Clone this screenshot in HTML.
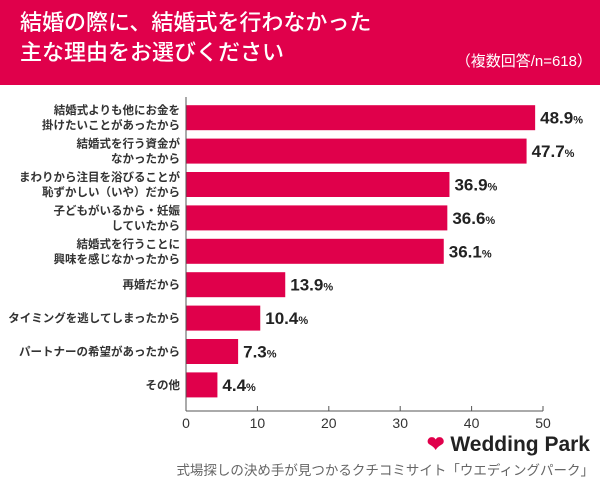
<!DOCTYPE html>
<html><head><meta charset="utf-8"><style>
body{margin:0;width:600px;height:486px;background:#fff;overflow:hidden;font-family:"Liberation Sans","Noto Sans CJK JP",sans-serif}
#hdr{position:absolute;left:0;top:0;width:600px;height:85px;background:#e0004b}
.t{position:absolute;color:#fff;white-space:nowrap}
</style></head><body>
<div id="hdr">
<div class="t" style="left:20px;top:8px;font-size:22px;line-height:30px;font-weight:500">結婚の際に、結婚式を行わなかった<br>主な理由をお選びください</div>
<div class="t" style="right:8px;top:50px;font-size:15px">（複数回答/n=618）</div>
</div>
<svg id="c" width="600" height="486" style="position:absolute;left:0;top:0"></svg>
<div style="position:absolute;right:10px;top:432px;font-size:21px;font-weight:bold;color:#222;white-space:nowrap"><span style="color:#e0004b">❤</span> Wedding Park</div>
<div style="position:absolute;right:6px;top:459px;font-size:13.5px;color:#666;white-space:nowrap">式場探しの決め手が見つかるクチコミサイト「ウエディングパーク」</div>
<script>
const categories=[["結婚式よりも他にお金を","掛けたいことがあったから"],["結婚式を行う資金が","なかったから"],["まわりから注目を浴びることが","恥ずかしい（いや）だから"],["子どもがいるから・妊娠","していたから"],["結婚式を行うことに","興味を感じなかったから"],["再婚だから"],["タイミングを逃してしまったから"],["パートナーの希望があったから"],["その他"]];
const values=[48.9,47.7,36.9,36.6,36.1,13.9,10.4,7.3,4.4];
const ticks=[0,10,20,30,40,50];
const svg=document.getElementById('c');const NS="http://www.w3.org/2000/svg";
const x0=186,x1=543,xmax=50,y0=101,step=33.4,bh=25;
const X=v=>x0+(x1-x0)*v/xmax;
function mk(t,a){const e=document.createElementNS(NS,t);for(const k in a)e.setAttribute(k,a[k]);svg.appendChild(e);return e;}
values.forEach((v,i)=>{
 const cy=y0+step*i+step/2;
 const r=mk('rect',{x:x0,y:cy-bh/2,width:X(v)-x0,height:bh,fill:'#e0004b'});
 
 
 const t=mk('text',{x:X(v)+5,y:cy+6,'font-size':17,'font-weight':'bold',fill:'#222'});
 
 
 t.innerHTML=v.toFixed(1)+'<tspan font-size="11">%</tspan>';
 const lines=categories[i];
 lines.forEach((s,j)=>{
  const l=mk('text',{x:180,y:cy+4+(j-(lines.length-1)/2)*15,'text-anchor':'end','font-size':11.5,'font-weight':'bold',fill:'#333'});
  
  
  l.textContent=s;
 });
});
const ax=mk('line',{x1:x0,y1:97,x2:x0,y2:411,stroke:'#555','stroke-width':1});


const xl=mk('line',{x1:x0,y1:411,x2:x1,y2:411,stroke:'#555','stroke-width':1});


ticks.forEach(v=>{
 const tk=mk('line',{x1:X(v),y1:406,x2:X(v),y2:411,stroke:'#555'});
 
 
 const tl=mk('text',{x:X(v),y:428,'text-anchor':'middle','font-size':14,fill:'#333'});
 
 
 tl.textContent=v;
});
</script>
</body></html>
